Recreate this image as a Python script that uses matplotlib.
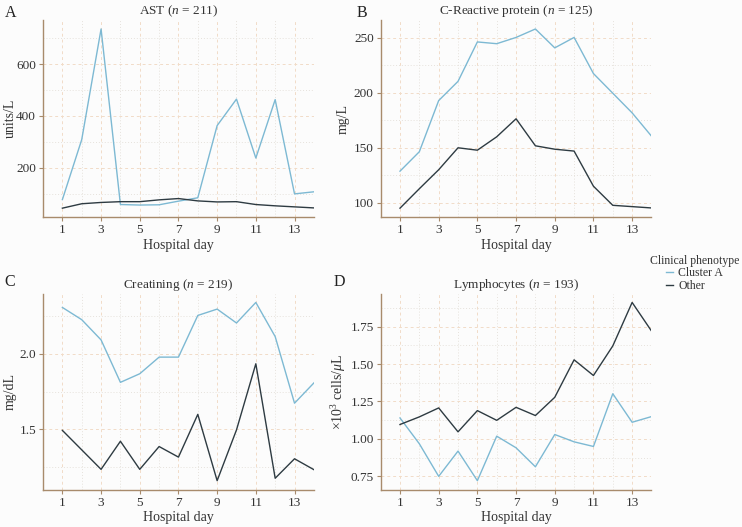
import matplotlib.pyplot as plt
from matplotlib.lines import Line2D
from matplotlib.ticker import MultipleLocator

plt.rcParams['font.family'] = ['Liberation Serif', 'DejaVu Serif']
plt.rcParams['mathtext.fontset'] = 'custom'
plt.rcParams['mathtext.rm'] = 'Liberation Serif'
plt.rcParams['mathtext.it'] = 'Liberation Serif:italic'

days = list(range(1, 15))

# AST
ast_cluster = [78, 309, 735, 59, 57, 58, 72, 85, 363, 465, 238, 463, 100, 108]
ast_other = [45, 62, 67, 70, 70, 77, 82, 73, 69, 70, 59, 54, 50, 46]

# C-reactive protein
crp_cluster = [128.7, 146.4, 193, 210.5, 246.4, 244.8, 250.5, 258.2, 241, 250.5, 217.6, 199.7, 181.8, 160.6]
crp_other = [95, 112.7, 130, 150, 147.8, 160, 176.4, 151.8, 148.7, 147, 115, 97.6, 96.4, 95.2]

# Creatinine
cre_cluster = [2.307, 2.226, 2.092, 1.811, 1.868, 1.978, 1.978, 2.254, 2.296, 2.204, 2.340, 2.114, 1.673, 1.807]
cre_other = [1.493, 1.364, 1.235, 1.421, 1.235, 1.386, 1.316, 1.599, 1.160, 1.496, 1.934, 1.176, 1.305, 1.233]

# Lymphocytes
lym_cluster = [1.14, 0.967, 0.749, 0.918, 0.72, 1.018, 0.94, 0.813, 1.029, 0.98, 0.949, 1.302, 1.111, 1.149]
lym_other = [1.096, 1.147, 1.207, 1.047, 1.189, 1.124, 1.211, 1.156, 1.278, 1.529, 1.424, 1.622, 1.913, 1.722]

panels = [
    ('A', r'AST ($\it{n}$ = 211)', 'units/L', ast_cluster, ast_other, 200),
    ('B', r'C-Reactive protein ($\it{n}$ = 125)', 'mg/L', crp_cluster, crp_other, 50),
    ('C', r'Creatining ($\it{n}$ = 219)', 'mg/dL', cre_cluster, cre_other, 0.5),
    ('D', r'Lymphocytes ($\it{n}$ = 193)', r'$\times$10$^3$ cells/$\mu$L', lym_cluster, lym_other, 0.25),
]

col_cluster = '#7db9d3'
col_other = '#2e3b42'
spine_col = '#a88b6c'
bg = '#fcfcfc'

fig = plt.figure(figsize=(7.42, 5.27), dpi=100, facecolor=bg)
positions = [
    [0.058, 0.588, 0.365, 0.374],
    [0.513, 0.588, 0.365, 0.374],
    [0.058, 0.071, 0.365, 0.372],
    [0.513, 0.071, 0.365, 0.372],
]
letter_pos = [(0.006, 0.975), (0.480, 0.975), (0.006, 0.465), (0.449, 0.465)]
ylabel_x = [-0.098, -0.114, -0.098, -0.122]

for (letter, title, ylabel, yc, yo, step), pos, lp, yx in zip(panels, positions, letter_pos, ylabel_x):
    ax = fig.add_axes(pos, facecolor=bg)
    ax.plot(days, yc, color=col_cluster, lw=1.0)
    ax.plot(days, yo, color=col_other, lw=1.0)
    ax.set_xlim(0, 14)
    ax.margins(y=0.05)
    ax.set_xticks(range(1, 14, 2))
    ax.set_xticks(range(2, 15, 2), minor=True)
    ax.yaxis.set_major_locator(MultipleLocator(step))
    ax.yaxis.set_minor_locator(MultipleLocator(step / 2))
    ax.grid(which='major', color='#f1dcc8', ls=(0, (3, 3)), lw=0.7)
    ax.grid(which='minor', color='#e6e2dc', ls=(0, (1, 2)), lw=0.7)
    ax.set_axisbelow(True)
    for s in ['top', 'right']:
        ax.spines[s].set_visible(False)
    for s in ['left', 'bottom']:
        ax.spines[s].set_color(spine_col)
        ax.spines[s].set_linewidth(1.0)
    ax.tick_params(which='major', colors=spine_col, labelcolor='#333333',
                   labelsize=9.5, length=3, width=0.8, pad=2)
    ax.tick_params(which='minor', length=0)
    ax.set_title(title, fontsize=9.5, color='#333333', pad=4)
    ax.set_xlabel('Hospital day', fontsize=10, color='#333333', labelpad=2)
    ax.set_ylabel(ylabel, fontsize=10, color='#333333')
    ax.yaxis.set_label_coords(yx, 0.5)
    fig.text(lp[0], lp[1], letter, fontsize=11.5, color='#222222', ha='left', va='center')

handles = [Line2D([], [], color=col_cluster, lw=1.0),
           Line2D([], [], color=col_other, lw=1.0)]
leg = fig.legend(handles, ['Cluster A', 'Other'], title='Clinical phenotype',
                 loc='upper left', bbox_to_anchor=(0.868, 0.528), frameon=False,
                 fontsize=8.5, title_fontsize=8.5, handlelength=0.6,
                 handletextpad=0.4, labelspacing=0.05, borderpad=0)
for t in leg.get_texts():
    t.set_color('#333333')
leg.get_title().set_color('#333333')

fig.savefig('out.png', dpi=100, facecolor=bg)
